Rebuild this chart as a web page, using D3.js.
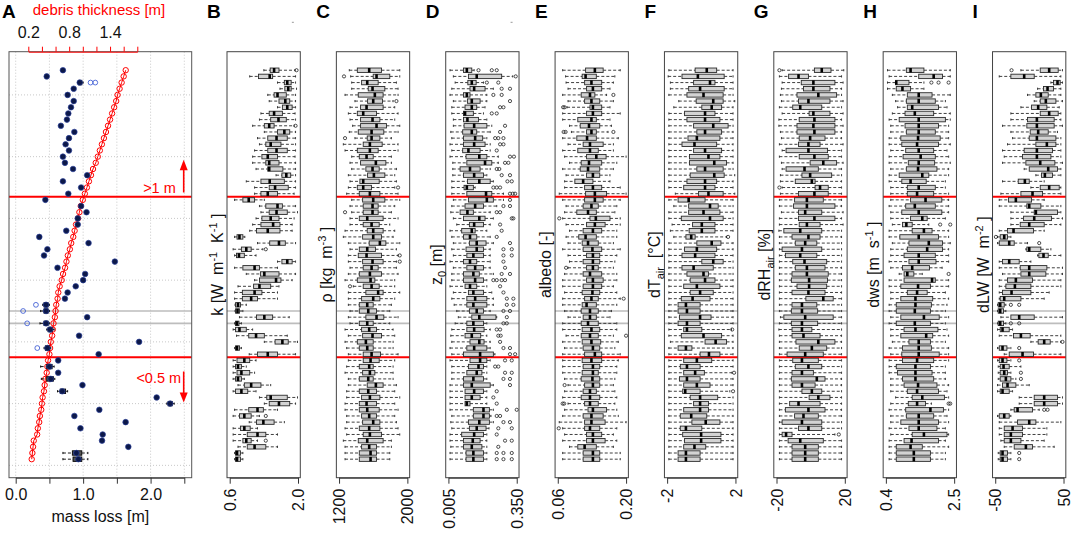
<!DOCTYPE html>
<html>
<head>
<meta charset="utf-8">
<script src="https://cdn.jsdelivr.net/npm/d3@7"></script>
<style>
  body { margin: 0; background: #fff; }
  text { font-family: "Liberation Sans", Arial, sans-serif; }
</style>
</head>
<body>
<div id="chart"></div>
<script>
/* ============================================================
   DATA — stakes listed top (row 64) to bottom (row 1)
============================================================ */

// observed mass loss per stake [m]
const massLoss = [
  0.70, 0.46, 0.95, 0.86, 0.77, 0.86, 0.82, 0.78, 0.76, 0.67,
  0.87, 0.79, 0.74, 0.79, 0.70, 0.73, 0.85, 1.06, 0.70, 0.97,
  0.78, 0.44, 0.97, 1.05, 0.92, 0.92, 0.75, 0.35, 1.08, 0.47,
  0.42, 1.47, 0.62, 1.03, 1.00, 0.89, 0.77, 0.73, 0.45, 0.45,
  1.06, 0.45, 0.51, 0.94, 1.83, 0.47, 1.23, 0.63, 0.50, 0.63,
  0.52, 0.99, 0.69, 2.09, 2.29, 1.24, 0.87, 1.63, 0.96, 1.29,
  1.28, 1.67, 0.90, 0.93
];

// stakes with a visible mass-loss spread: [row, lo, q1, median, q3, hi]
const massBoxes = [
  [62, 0.92, 0.93, 0.95, 0.98, 1.00],
  [26, 0.40, 0.42, 0.45, 0.48, 0.50],
  [25, 0.37, 0.42, 0.45, 0.48, 0.50],
  [23, 0.36, 0.42, 0.45, 0.48, 0.50],
  [22, 0.46, 0.48, 0.51, 0.54, 0.57],
  [19, 0.42, 0.44, 0.47, 0.50, 0.52],
  [16, 0.37, 0.46, 0.50, 0.54, 0.57],
  [14, 0.38, 0.46, 0.52, 0.56, 0.58],
  [12, 0.62, 0.66, 0.69, 0.74, 0.77],
  [10, 2.24, 2.26, 2.29, 2.32, 2.35],
  [2, 0.70, 0.84, 0.90, 0.98, 1.07],
  [1, 0.70, 0.85, 0.93, 0.98, 1.07]
];
const massOutliers = [[62, [1.11, 1.18]], [26, [0.30]], [25, [0.11]], [23, [0.17]], [19, [0.32]]];

// debris thickness per stake [m]
const thickness = [
  1.63, 1.60, 1.57, 1.54, 1.51, 1.49, 1.46, 1.43, 1.40, 1.37,
  1.34, 1.31, 1.28, 1.25, 1.22, 1.19, 1.15, 1.12, 1.09, 1.06,
  1.03, 1.00, 0.97, 0.95, 0.93, 0.90, 0.88, 0.86, 0.83, 0.81,
  0.78, 0.76, 0.74, 0.71, 0.69, 0.66, 0.64, 0.63, 0.61, 0.60,
  0.59, 0.57, 0.56, 0.55, 0.53, 0.52, 0.51, 0.49, 0.48, 0.47,
  0.45, 0.44, 0.43, 0.41, 0.40, 0.39, 0.37, 0.36, 0.34, 0.33,
  0.28, 0.27, 0.26, 0.25
];

const massTicks = [0, 0.5, 1.0, 1.5, 2.0, 2.5];
const massTickLabels = ["0.0", "", "1.0", "", "2.0", ""];
const thickTicks = [0.2, 0.4, 0.6, 0.8, 1.0, 1.2, 1.4, 1.6, 1.8];
const thickTickLabels = ["0.2", "", "", "0.8", "", "", "1.4", "", ""];
const gridRows = [0, 10, 20, 30, 40, 50, 60];
const separatorRows = [43.5, 17.5];
const gapRows = [25, 23];

/* ---------- boxplot stats [lo, q1, median, q3, hi] ---------- */

const kStats = [
  [1.30,1.43,1.51,1.61,1.94],[1.01,1.19,1.42,1.48,1.95],[1.58,1.72,1.78,1.86,1.95],[1.63,1.73,1.80,1.86,1.97],
  [1.38,1.51,1.58,1.76,1.95],[1.41,1.61,1.74,1.83,1.95],[1.58,1.68,1.78,1.88,1.95],[1.24,1.41,1.51,1.68,1.94],
  [1.21,1.44,1.60,1.76,1.95],[1.07,1.31,1.41,1.51,1.92],[1.31,1.58,1.72,1.83,1.95],[1.17,1.38,1.56,1.78,1.95],
  [1.21,1.34,1.44,1.65,1.95],[1.11,1.38,1.56,1.78,1.95],[1.07,1.26,1.38,1.58,1.94],[1.07,1.34,1.41,1.61,1.95],
  [1.14,1.38,1.41,1.69,1.95],[1.55,1.67,1.76,1.85,1.95],[0.94,1.24,1.42,1.72,1.95],[1.11,1.41,1.53,1.80,1.95],
  [1.11,1.24,1.38,1.58,1.92],[0.70,0.87,0.99,1.11,1.31],[1.21,1.34,1.58,1.68,1.95],[1.24,1.41,1.56,1.78,1.99],
  [1.14,1.26,1.44,1.61,1.92],[1.07,1.24,1.49,1.63,1.88],[1.01,1.15,1.38,1.63,1.88],[0.70,0.75,0.80,0.87,0.91],
  [1.17,1.42,1.61,1.74,1.95],[0.67,0.84,0.94,1.04,1.28],[0.70,0.74,0.79,0.90,1.14],[1.58,1.67,1.78,1.88,1.95],
  [0.70,0.87,1.11,1.21,1.58],[0.94,1.23,1.31,1.61,1.95],[1.11,1.21,1.55,1.65,1.88],[0.77,1.09,1.21,1.44,1.61],
  [0.70,0.86,1.11,1.26,1.58],[0.70,0.86,1.04,1.17,1.58],[0.71,0.72,0.77,0.82,0.94],[0.71,0.72,0.76,0.80,0.87],
  [0.80,1.15,1.31,1.48,1.82],[0.70,0.72,0.75,0.79,0.84],[0.67,0.72,0.80,0.94,1.07],[0.74,0.99,1.14,1.31,1.78],
  [1.31,1.53,1.68,1.80,1.99],[0.70,0.72,0.75,0.80,0.84],[1.00,1.17,1.38,1.58,1.95],[0.67,0.75,0.90,1.01,1.14],
  [0.67,0.72,0.77,0.84,0.94],[0.67,0.75,0.84,1.01,1.11],[0.67,0.72,0.77,0.84,0.90],[0.77,0.90,1.04,1.24,1.44],
  [0.67,0.72,0.84,0.97,1.14],[1.21,1.36,1.44,1.78,1.99],[1.31,1.41,1.61,1.83,1.95],[0.70,0.99,1.17,1.29,1.58],
  [0.67,0.80,0.90,1.04,1.21],[1.00,1.15,1.29,1.51,1.72],[0.67,0.82,0.90,1.02,1.17],[0.67,0.96,1.17,1.34,1.58],
  [0.67,0.87,0.94,1.04,1.17],[0.77,0.96,1.11,1.34,1.58],[0.70,0.72,0.75,0.82,0.87],[0.70,0.72,0.75,0.82,0.87]
];
const kOutliers = [[64, [1.97]], [55, [1.95]], [35, [1.34]], [8, [1.34]], [4, [1.34]]];

const rhoStats = [
  [1320,1414,1553,1697,1911],[1336,1600,1639,1794,1911],[1348,1464,1530,1658,1872],[1348,1542,1592,1736,1891],
  [1270,1425,1619,1716,1891],[1386,1534,1600,1709,1833],[1328,1452,1522,1716,1852],[1309,1414,1483,1639,1891],
  [1328,1452,1592,1678,1852],[1359,1452,1639,1755,1911],[1320,1425,1581,1724,1891],[1386,1530,1581,1678,1813],
  [1250,1483,1561,1705,1891],[1270,1414,1561,1658,1891],[1348,1437,1522,1600,1813],[1328,1452,1631,1748,1813],
  [1348,1514,1592,1670,1872],[1309,1534,1608,1736,1852],[1328,1444,1483,1670,1872],[1309,1414,1483,1580,1852],
  [1289,1437,1561,1678,1891],[1348,1476,1600,1736,1911],[1328,1483,1592,1658,1852],[1348,1483,1592,1658,1813],
  [1328,1437,1530,1716,1891],[1328,1483,1581,1670,1794],[1270,1530,1600,1716,1852],[1250,1476,1600,1697,1833],
  [1309,1553,1678,1748,1911],[1328,1437,1530,1627,1872],[1309,1425,1522,1697,1891],[1309,1476,1592,1716,1872],
  [1328,1483,1581,1658,1872],[1309,1437,1561,1697,1891],[1270,1414,1569,1619,1852],[1367,1483,1581,1670,1852],
  [1309,1514,1658,1716,1911],[1309,1464,1600,1678,1852],[1309,1437,1530,1600,1813],[1328,1437,1542,1639,1794],
  [1309,1514,1639,1724,1891],[1328,1437,1530,1600,1794],[1270,1464,1553,1639,1833],[1309,1476,1592,1697,1852],
  [1270,1414,1514,1600,1833],[1289,1437,1530,1600,1833],[1309,1483,1581,1686,1891],[1309,1483,1569,1670,1852],
  [1289,1437,1553,1600,1833],[1270,1476,1561,1619,1833],[1309,1437,1542,1600,1833],[1309,1530,1631,1716,1872],
  [1289,1437,1542,1639,1852],[1289,1464,1561,1678,1911],[1270,1437,1522,1639,1852],[1270,1437,1530,1670,1891],
  [1289,1464,1553,1639,1852],[1289,1476,1600,1678,1872],[1270,1437,1553,1678,1891],[1289,1483,1561,1697,1911],
  [1250,1425,1530,1716,1813],[1270,1464,1553,1639,1813],[1270,1437,1569,1639,1794],[1270,1437,1569,1639,1794]
];
const rhoOutliers = [[63, [1258]], [59, [1872]], [53, [1270]], [45, [1891]], [41, [1270]], [34, [1911]], [33, [1911]], [29, [1328]]];

const z0Stats = [
  [0.013,0.081,0.098,0.123,0.135],[0.030,0.106,0.148,0.274,0.330],[0.039,0.103,0.123,0.145,0.182],[0.022,0.114,0.135,0.190,0.232],
  [0.013,0.081,0.098,0.114,0.199],[0.030,0.101,0.123,0.165,0.199],[0.022,0.089,0.123,0.148,0.190],[0.022,0.081,0.089,0.131,0.182],
  [0.030,0.081,0.101,0.157,0.199],[0.030,0.084,0.135,0.199,0.224],[0.017,0.077,0.123,0.148,0.216],[0.022,0.081,0.140,0.178,0.199],
  [0.013,0.081,0.135,0.190,0.216],[0.022,0.077,0.106,0.165,0.216],[0.013,0.094,0.161,0.199,0.257],[0.027,0.098,0.190,0.224,0.257],
  [0.027,0.064,0.114,0.165,0.216],[0.027,0.081,0.135,0.182,0.199],[0.022,0.101,0.161,0.216,0.232],[0.022,0.084,0.098,0.131,0.140],
  [0.022,0.098,0.195,0.224,0.283],[0.030,0.106,0.199,0.232,0.283],[0.022,0.089,0.140,0.182,0.249],[0.017,0.064,0.101,0.131,0.216],
  [0.030,0.081,0.161,0.190,0.232],[0.047,0.111,0.135,0.182,0.216],[0.013,0.072,0.123,0.140,0.199],[0.022,0.081,0.114,0.148,0.216],
  [0.030,0.111,0.148,0.195,0.232],[0.022,0.094,0.148,0.182,0.216],[0.030,0.098,0.131,0.182,0.216],[0.013,0.081,0.114,0.148,0.216],
  [0.030,0.098,0.140,0.182,0.216],[0.022,0.081,0.131,0.161,0.232],[0.022,0.081,0.140,0.182,0.199],[0.013,0.089,0.114,0.148,0.199],
  [0.030,0.106,0.131,0.182,0.224],[0.022,0.098,0.140,0.199,0.232],[0.034,0.098,0.131,0.199,0.232],[0.047,0.111,0.148,0.182,0.216],
  [0.055,0.123,0.161,0.245,0.249],[0.039,0.098,0.131,0.182,0.199],[0.022,0.098,0.135,0.185,0.216],[0.017,0.089,0.123,0.168,0.199],
  [0.022,0.114,0.161,0.185,0.216],[0.013,0.098,0.135,0.199,0.216],[0.022,0.081,0.165,0.232,0.240],[0.013,0.114,0.165,0.199,0.216],
  [0.022,0.106,0.157,0.182,0.199],[0.022,0.098,0.148,0.174,0.199],[0.022,0.081,0.131,0.182,0.199],[0.013,0.081,0.123,0.216,0.232],
  [0.013,0.089,0.135,0.182,0.199],[0.013,0.089,0.123,0.165,0.199],[0.013,0.089,0.098,0.114,0.199],[0.013,0.131,0.182,0.212,0.232],
  [0.022,0.131,0.182,0.212,0.220],[0.017,0.106,0.161,0.212,0.232],[0.022,0.111,0.148,0.195,0.210],[0.013,0.072,0.135,0.182,0.199],
  [0.013,0.081,0.128,0.165,0.199],[0.017,0.081,0.123,0.174,0.199],[0.013,0.094,0.131,0.182,0.199],[0.013,0.094,0.131,0.182,0.199]
];
const z0Outliers = [
  [64, [0.157, 0.224, 0.249]], [63, [0.345]], [62, [0.199, 0.257]], [61, [0.274, 0.316]], [60, [0.232, 0.274]],
  [59, [0.316]], [58, [0.266, 0.283]], [57, [0.224, 0.249]], [55, [0.291]], [54, [0.266]],
  [53, [0.241, 0.257, 0.283]], [52, [0.266, 0.283]], [51, [0.249]], [50, [0.316, 0.336]], [49, [0.291, 0.308]],
  [48, [0.249, 0.262]], [47, [0.274, 0.316]], [46, [0.303, 0.325]], [45, [0.232, 0.249, 0.266]], [44, [0.316, 0.330, 0.342]],
  [43, [0.316]], [42, [0.283, 0.316]], [41, [0.249, 0.266]], [40, [0.325, 0.333]], [39, [0.266]],
  [38, [0.274]], [37, [0.249]], [36, [0.316]], [35, [0.283, 0.325]], [34, [0.283, 0.325]],
  [33, [0.283]], [32, [0.291]], [31, [0.274, 0.316]], [30, [0.232, 0.249, 0.274, 0.291]], [29, [0.266]],
  [28, [0.283]], [27, [0.300, 0.333]], [26, [0.300, 0.333]], [25, [0.283, 0.316]], [24, [0.300]],
  [23, [0.283, 0.300]], [22, [0.249, 0.266]], [21, [0.257, 0.269]], [20, [0.266]], [19, [0.283, 0.316]],
  [18, [0.316, 0.342]], [17, [0.291, 0.325]], [16, [0.241, 0.257]], [15, [0.291, 0.325]], [14, [0.283, 0.316]],
  [13, [0.316]], [12, [0.249]], [11, [0.232]], [10, [0.249]], [9, [0.300, 0.350]],
  [8, [0.249, 0.266]], [7, [0.283, 0.316]], [6, [0.257, 0.325]], [5, [0.249]], [4, [0.291, 0.325]],
  [3, [0.257]], [2, [0.249, 0.283, 0.325]], [1, [0.249, 0.283, 0.325]]
];

const albedoStats = [
  [0.070,0.117,0.136,0.153,0.188],[0.076,0.110,0.117,0.139,0.177],[0.077,0.115,0.129,0.150,0.174],[0.081,0.119,0.132,0.150,0.167],
  [0.070,0.108,0.126,0.136,0.160],[0.081,0.115,0.129,0.146,0.174],[0.079,0.126,0.132,0.150,0.167],[0.070,0.119,0.132,0.150,0.188],
  [0.070,0.101,0.129,0.139,0.167],[0.084,0.106,0.124,0.146,0.170],[0.088,0.119,0.129,0.139,0.163],[0.070,0.099,0.120,0.139,0.184],
  [0.081,0.112,0.126,0.153,0.174],[0.070,0.101,0.126,0.143,0.174],[0.074,0.119,0.139,0.159,0.200],[0.084,0.108,0.124,0.150,0.181],
  [0.070,0.106,0.122,0.146,0.174],[0.077,0.119,0.132,0.146,0.167],[0.074,0.095,0.112,0.132,0.167],[0.074,0.115,0.132,0.150,0.188],
  [0.063,0.117,0.136,0.160,0.200],[0.070,0.115,0.136,0.153,0.188],[0.077,0.112,0.129,0.143,0.181],[0.074,0.099,0.122,0.139,0.177],
  [0.070,0.126,0.138,0.167,0.188],[0.077,0.119,0.136,0.157,0.188],[0.084,0.112,0.132,0.150,0.181],[0.077,0.103,0.117,0.139,0.181],
  [0.081,0.110,0.122,0.143,0.174],[0.070,0.112,0.131,0.150,0.188],[0.081,0.119,0.132,0.146,0.181],[0.084,0.112,0.132,0.146,0.177],
  [0.081,0.119,0.132,0.143,0.174],[0.074,0.112,0.126,0.150,0.181],[0.070,0.119,0.132,0.153,0.181],[0.070,0.112,0.132,0.150,0.174],
  [0.074,0.110,0.131,0.146,0.181],[0.070,0.115,0.129,0.143,0.188],[0.070,0.110,0.119,0.139,0.181],[0.074,0.108,0.126,0.143,0.170],
  [0.081,0.112,0.126,0.139,0.167],[0.070,0.108,0.122,0.143,0.181],[0.070,0.110,0.129,0.146,0.181],[0.077,0.108,0.126,0.143,0.174],
  [0.070,0.110,0.129,0.148,0.184],[0.074,0.112,0.132,0.146,0.177],[0.070,0.115,0.136,0.150,0.188],[0.070,0.110,0.129,0.150,0.184],
  [0.070,0.112,0.132,0.146,0.181],[0.070,0.110,0.132,0.143,0.181],[0.074,0.108,0.131,0.146,0.177],[0.081,0.115,0.132,0.146,0.174],
  [0.074,0.112,0.126,0.139,0.177],[0.070,0.108,0.126,0.146,0.181],[0.081,0.115,0.126,0.143,0.177],[0.074,0.122,0.132,0.160,0.181],
  [0.070,0.112,0.129,0.153,0.184],[0.063,0.115,0.129,0.157,0.200],[0.070,0.115,0.126,0.146,0.181],[0.074,0.119,0.132,0.150,0.174],
  [0.070,0.119,0.132,0.157,0.181],[0.084,0.101,0.115,0.139,0.174],[0.070,0.112,0.132,0.146,0.188],[0.070,0.112,0.132,0.146,0.188]
];
const albedoOutliers = [
  [60, [0.174]], [58, [0.071, 0.074]], [54, [0.072, 0.076, 0.174]], [40, [0.063]], [32, [0.077]],
  [27, [0.195]], [21, [0.200]], [13, [0.074]], [10, [0.070, 0.073]], [6, [0.062]]
];

const dTStats = [
  [-1.90,-0.36,0.32,0.90,1.86],[-1.94,-1.13,-0.20,1.34,1.86],[-1.81,-0.45,0.51,0.80,1.86],[-1.81,-0.74,-0.07,1.34,1.86],
  [-1.90,-0.84,0.13,1.28,1.86],[-1.32,-0.30,0.70,1.28,1.96],[-1.61,0.03,0.61,1.19,1.86],[-1.90,-0.98,0.22,0.80,1.86],
  [-1.90,-0.84,0.22,1.09,1.86],[-1.90,-0.45,0.70,1.57,1.86],[-1.90,-0.26,0.22,1.19,1.86],[-1.90,-0.78,-0.26,1.09,1.86],
  [-1.90,-1.13,-0.40,0.90,1.86],[-1.90,-0.45,0.22,1.19,1.86],[-1.90,-0.69,0.42,1.09,1.86],[-1.90,-0.69,0.76,1.48,1.86],
  [-1.90,-0.26,0.22,1.28,1.86],[-1.90,-0.65,0.76,1.34,1.96],[-1.90,-0.84,0.22,0.90,1.86],[-1.90,-1.03,0.22,0.80,1.86],
  [-1.52,-0.16,0.42,1.28,1.96],[-1.90,-1.36,-0.74,0.22,1.86],[-1.61,-0.74,0.51,0.99,1.86],[-1.90,-0.74,0.13,1.09,1.86],
  [-1.90,-1.17,0.51,1.28,1.86],[-1.71,-0.51,0.03,0.80,1.86],[-1.81,-0.71,0.03,0.80,1.86],[-1.61,-0.90,-0.59,-0.36,1.48],
  [-1.90,-0.26,0.61,1.15,1.86],[-1.90,-0.98,-0.26,0.90,1.86],[-1.90,-1.13,-0.36,0.80,1.86],[-1.90,0.03,0.70,1.28,1.86],
  [-1.90,-1.13,-0.45,0.70,1.86],[-1.90,-0.84,0.13,0.42,1.86],[-1.90,-0.65,0.22,0.80,1.86],[-1.90,-1.03,-0.26,1.09,1.86],
  [-1.90,-0.65,-0.07,0.70,1.86],[-1.90,-1.17,-0.51,0.51,1.86],[-1.90,-1.36,-0.90,-0.07,1.86],[-1.90,-1.36,-0.84,-0.07,1.86],
  [-1.90,-1.28,-0.07,0.57,1.86],[-1.90,-1.36,-0.84,-0.07,1.86],[-1.90,-1.03,-0.84,0.03,1.77],[-1.90,-1.17,0.13,1.19,1.86],
  [-1.81,0.22,0.84,1.48,1.86],[-1.90,-1.36,-0.90,-0.55,1.86],[-1.90,-0.07,0.45,1.09,1.86],[-1.90,-1.03,-0.26,0.61,1.86],
  [-1.90,-1.23,-0.84,-0.07,1.86],[-1.90,-1.03,-0.36,0.18,1.80],[-1.90,-1.28,-0.84,-0.07,1.86],[-1.90,-1.03,-0.26,0.51,1.86],
  [-1.90,-1.09,-0.94,-0.07,1.67],[-1.90,-0.65,-0.07,0.96,1.86],[-1.90,-0.45,-0.07,0.42,1.86],[-1.90,-1.03,-0.07,0.42,1.86],
  [-1.90,-1.23,-0.59,0.32,1.86],[-1.90,-0.55,0.26,1.09,1.86],[-1.90,-1.23,-0.90,0.03,1.86],[-1.90,-1.09,-0.01,1.15,1.86],
  [-1.90,-0.98,-0.01,1.15,1.86],[-1.90,-1.03,-0.40,0.26,1.86],[-1.90,-1.36,-0.90,-0.07,1.86],[-1.90,-1.36,-0.90,-0.07,1.86]
];
const dTOutliers = [[37, [1.57]], [22, [1.81]], [15, [1.92]], [12, [1.86]]];

const dRHStats = [
  [-16.7,2.2,6.5,11.9,19.4],[-18.3,-12.9,-7.1,-1.3,18.1],[-16.7,-5.5,1.6,14.2,19.0],[-17.1,-4.2,1.6,11.3,18.1],
  [-17.7,-8.0,4.5,15.2,18.1],[-17.1,-7.1,-1.3,11.3,19.0],[-18.3,-10.5,-6.1,6.5,18.1],[-16.7,-0.9,1.6,11.3,19.0],
  [-18.6,-6.7,2.2,14.2,18.1],[-18.6,-8.0,1.6,14.2,19.0],[-17.7,-8.0,2.2,14.2,18.1],[-17.1,-6.7,-0.3,8.4,18.1],
  [-18.3,-7.1,-1.3,5.5,19.0],[-16.7,-14.4,-1.3,9.9,18.1],[-18.3,-6.7,2.2,10.3,18.1],[-17.1,-0.3,7.4,15.2,19.0],
  [-16.7,-14.4,-3.6,4.5,18.1],[-17.7,-5.1,-0.3,12.3,18.1],[-17.7,-9.0,0.7,2.6,18.1],[-16.7,2.6,5.5,10.3,18.1],
  [-17.7,-7.1,2.2,10.3,18.1],[-18.3,-9.4,-2.2,7.4,18.1],[-18.3,-10.0,-2.2,14.2,18.1],[-17.1,-7.1,-3.2,6.5,19.0],
  [-18.3,-7.1,2.2,14.2,18.1],[-18.3,-6.7,-2.2,5.5,19.0],[-18.6,-15.7,-6.1,6.5,18.1],[-18.3,-10.9,-1.3,5.5,18.1],
  [-18.3,-9.0,-3.2,3.6,18.1],[-18.3,-16.7,-5.1,6.5,18.1],[-18.3,-14.8,-6.1,3.6,18.1],[-18.3,-10.5,-3.6,9.4,18.1],
  [-18.3,-9.0,-2.2,8.4,18.1],[-18.3,-10.9,-2.2,10.3,18.1],[-18.3,-11.3,-0.9,9.9,18.1],[-18.3,-8.0,-0.9,9.4,18.1],
  [-18.3,-10.9,-1.3,8.4,18.1],[-18.3,-2.8,7.4,13.2,18.1],[-18.3,-10.9,-5.1,3.6,18.1],[-18.3,-11.3,-5.1,4.1,18.1],
  [-17.7,-15.7,-3.2,13.2,18.1],[-18.3,-11.3,-5.1,4.1,18.1],[-18.6,-10.9,-5.1,0.7,18.1],[-18.3,-10.9,-4.2,5.5,18.1],
  [-18.3,-8.6,4.5,14.2,18.1],[-18.3,-6.7,0.7,9.4,18.1],[-18.3,-13.8,-3.2,7.4,18.1],[-18.3,-10.5,-5.1,4.5,18.1],
  [-18.3,-9.0,-1.3,6.5,18.1],[-18.3,-10.9,-5.1,1.6,18.1],[-18.3,-11.3,3.6,8.4,18.1],[-18.3,-10.9,-5.1,2.6,18.1],
  [-18.3,-5.1,0.7,6.5,18.1],[-18.3,-0.9,4.5,11.3,18.1],[-18.3,-12.3,-7.1,5.5,18.1],[-18.3,-14.8,-1.3,8.4,18.1],
  [-18.3,-9.4,-4.2,4.5,18.1],[-18.3,-16.7,-5.1,6.5,18.1],[-18.3,-7.1,-1.3,6.5,18.1],[-18.3,-16.7,-14.4,-10.9,14.2],
  [-18.3,-13.2,-6.1,7.4,18.1],[-18.3,-10.9,-3.2,4.5,18.1],[-18.3,-10.9,-3.2,4.5,18.1],[-18.3,-10.9,-3.2,4.5,18.1]
];
const dRHOutliers = [[64, [-18.3]], [45, [-18.3]], [5, [16.5]]];

const dwsStats = [
  [0.45,1.03,1.16,1.57,2.38],[0.50,1.41,1.87,2.14,2.38],[0.45,0.70,0.72,1.11,1.57],[0.45,0.72,0.91,1.16,1.57],
  [0.60,1.06,1.41,1.82,2.38],[0.70,1.03,1.41,1.92,2.23],[0.76,1.06,1.21,2.02,2.28],[0.60,0.99,1.29,1.87,2.38],
  [0.50,0.81,1.41,2.23,2.38],[0.55,0.99,1.41,2.02,2.33],[0.55,1.03,1.41,1.92,2.33],[0.50,0.86,1.39,2.07,2.33],
  [0.50,0.89,1.36,2.02,2.38],[0.55,1.01,1.41,1.87,2.28],[0.50,0.93,1.47,1.92,2.33],[0.50,1.09,1.41,1.90,2.38],
  [0.55,1.03,1.39,1.97,2.33],[0.50,0.81,1.52,1.72,2.33],[0.50,0.89,1.16,1.64,2.23],[0.55,1.06,1.41,1.92,2.23],
  [0.55,1.06,1.36,1.87,2.33],[0.55,1.16,1.62,2.12,2.33],[0.50,1.01,1.29,1.92,2.33],[0.55,0.89,1.41,2.12,2.33],
  [0.55,1.16,1.52,1.67,2.23],[0.60,0.91,1.03,1.21,1.72],[0.50,1.21,1.57,1.82,2.33],[0.50,0.83,1.41,2.02,2.33],
  [0.60,1.11,1.72,2.14,2.38],[0.55,1.06,1.67,2.14,2.33],[0.55,0.96,1.41,1.92,2.33],[0.50,1.11,1.41,1.94,2.33],
  [0.55,0.91,1.21,1.74,2.13],[0.81,0.96,1.06,1.26,1.52],[0.50,0.96,1.82,1.92,2.33],[0.50,0.86,1.39,1.77,2.33],
  [0.55,1.06,1.36,1.67,2.23],[0.55,0.86,1.31,1.84,2.33],[0.50,0.72,1.31,1.80,2.28],[0.50,0.72,1.29,1.77,2.23],
  [0.55,0.86,1.57,2.04,2.33],[0.50,0.72,1.29,1.77,2.23],[0.55,0.96,1.31,2.00,2.28],[0.55,0.86,1.64,1.84,2.33],
  [0.60,1.11,1.41,1.77,2.23],[0.50,0.91,1.41,1.80,2.33],[0.55,0.89,1.41,2.04,2.33],[0.50,0.91,1.36,1.87,2.33],
  [0.50,0.72,1.31,1.77,2.23],[0.50,0.76,1.31,1.82,2.23],[0.55,0.91,1.31,1.87,2.23],[0.55,0.96,1.39,1.97,2.33],
  [0.55,1.06,1.36,2.02,2.28],[0.70,1.21,1.52,2.20,2.33],[0.55,1.09,1.36,1.62,1.80],[0.50,1.01,1.77,2.17,2.33],
  [0.55,1.03,1.41,1.87,2.28],[0.55,0.86,1.41,2.02,2.33],[0.50,1.11,1.41,1.97,2.23],[0.55,1.21,1.57,2.28,2.33],
  [0.50,0.96,1.19,2.02,2.23],[0.50,0.72,1.16,1.52,2.33],[0.50,0.72,1.26,1.77,2.23],[0.50,0.72,1.26,1.77,2.23]
];
const dwsOutliers = [[62, [1.80, 2.02, 2.33]], [39, [2.07, 2.38]], [31, [2.33]], [10, [2.33, 2.38]]];

const dLWStats = [
  [-12.4,15.9,29.0,42.2,48.5],[-44.1,-27.1,-7.6,7.1,46.1],[31.5,35.4,41.2,45.1,48.5],[12.0,20.7,26.6,35.4,46.1],
  [-2.7,9.5,16.8,27.6,46.1],[7.1,15.9,24.1,38.8,48.5],[-12.4,3.2,12.9,25.6,43.7],[-27.1,15.9,29.0,42.2,46.1],
  [-27.1,-2.7,11.0,36.3,46.1],[-39.3,-3.7,11.0,36.3,48.5],[-27.1,1.2,12.9,27.6,41.2],[-24.6,-0.2,11.0,38.8,46.1],
  [-32.0,9.5,25.6,38.8,46.1],[-39.3,-7.6,11.0,33.9,46.1],[-36.8,-10.0,11.0,31.5,46.1],[-39.3,-5.1,15.9,37.3,48.5],
  [-7.6,-0.2,27.6,41.2,46.1],[9.5,17.8,22.7,33.9,46.1],[-39.3,-16.3,-6.6,-0.2,21.7],[2.2,15.9,29.0,43.7,46.1],
  [-41.7,-12.4,4.6,19.3,46.1],[-44.1,-30.5,-19.8,3.2,21.7],[-44.1,-3.7,-0.2,16.8,46.1],[-27.1,7.1,9.5,41.2,46.1],
  [-27.1,-8.5,7.1,32.4,48.5],[-27.1,-13.4,-0.2,21.7,46.1],[-44.1,-32.0,-23.2,6.1,21.7],[-46.6,-42.7,-36.8,-32.0,-27.1],
  [-46.6,-44.1,-29.5,-22.2,-2.7],[-5.1,-3.7,-0.2,16.8,31.5],[12.0,13.9,20.7,27.6,46.1],[-44.1,-39.3,-29.5,-14.9,2.2],
  [-44.1,-13.4,-0.2,25.6,48.5],[-39.3,-12.4,-0.2,24.1,48.5],[-44.1,-32.0,-19.8,4.6,46.1],[-44.1,-34.4,-21.2,2.2,46.1],
  [-44.1,-39.3,-26.1,2.2,29.0],[-44.1,-42.7,-36.8,-12.4,21.7],[-46.6,-45.6,-42.7,-36.8,-34.4],[-46.6,-45.6,-42.7,-37.8,-34.4],
  [-41.7,-27.1,-14.9,7.1,48.5],[-46.6,-45.6,-42.7,-37.8,-34.4],[-46.6,-42.7,-39.3,-29.5,-24.6],[-44.1,-23.2,-12.4,1.2,46.1],
  [2.2,12.9,21.7,30.5,46.1],[-46.6,-44.1,-39.3,-32.9,-27.1],[-36.8,-29.5,-10.0,6.1,46.1],[-46.6,-44.1,-39.3,-32.9,-27.1],
  [-45.6,-42.7,-37.8,-29.5,-12.4],[-45.6,-42.7,-36.8,-32.0,-27.1],[-45.6,-42.7,-34.4,-27.1,-19.8],[-46.6,-39.3,-32.0,-19.8,-0.2],
  [-46.6,-42.7,-39.3,-29.5,-24.6],[-14.9,7.1,21.7,41.2,48.5],[-14.9,7.1,21.7,41.2,48.5],[-27.1,-22.2,-17.3,4.6,14.4],
  [-46.6,-44.1,-36.8,-29.5,-27.1],[-44.1,-17.3,-0.2,9.5,46.1],[-44.1,-36.8,-24.6,-10.0,25.6],[-44.1,-36.8,-27.1,-10.0,25.6],
  [-41.7,-36.8,-27.1,-12.4,21.7],[-36.8,-22.2,-5.1,4.6,36.3],[-45.6,-42.7,-39.3,-32.0,-27.1],[-45.6,-42.7,-39.3,-32.0,-27.1]
];
const dLWOutliers = [
  [64, [-26.1]], [37, [-49.0]], [36, [14.4]], [26, [-27.1, -14.9]], [23, [-27.1, -14.9]], [20, [48.5]],
  [19, [-14.9]], [17, [-14.9]], [15, [-12.4]], [14, [-12.4]], [9, [21.7, 26.6]], [2, [-14.9]], [1, [-14.9]]
];

/* ---------- axis ticks and titles ---------- */

const kTicks = [0.6, 2.0],       kTickLabels = ["0.6", "2.0"];
const rhoTicks = [1200, 2000],   rhoTickLabels = ["1200", "2000"];
const z0Ticks = [0.005, 0.350],  z0TickLabels = ["0.005", "0.350"];
const albedoTicks = [0.06, 0.20], albedoTickLabels = ["0.06", "0.20"];
const dTTicks = [-2, 2],         dTTickLabels = ["-2", "2"];
const dRHTicks = [-20, 20],      dRHTickLabels = ["-20", "20"];
const dwsTicks = [0.4, 2.5],     dwsTickLabels = ["0.4", "2.5"];
const dLWTicks = [-50, 50],      dLWTickLabels = ["-50", "50"];

// title pieces: [text, "sup" | "sub" | undefined]
const yTitles = [
  [["k [W  m"], ["-1", "sup"], ["  K"], ["-1", "sup"], [" ]"]],
  [["\u03c1 [kg  m"], ["-3", "sup"], [" ]"]],
  [["z"], ["0", "sub"], [" [m]"]],
  [["albedo [-]"]],
  [["dT"], ["air", "sub"], ["  [\u00b0C]"]],
  [["dRH"], ["air", "sub"], [" [%]"]],
  [["dws [m  s"], ["-1", "sup"], [" ]"]],
  [["dLW [W  m"], ["-2", "sup"], [" ]"]]
];

/* ============================================================
   LAYOUT
============================================================ */

const W = 1072, H = 533;
const FONT = "'Liberation Sans', Arial, sans-serif";
const RED = "#ff0000";
const PLOT_TOP = 51.7, PLOT_BOTTOM = 477.7;
const PANEL_W = 73.3;
const BH = 2.2;    // half box height
const CAP = 1.1;   // half whisker cap height

const ROW_IDS = d3.range(64, 0, -1);

const svg = d3.select("#chart")
  .append("svg")
  .attr("width", W)
  .attr("height", H)
  .style("display", "block");

const y = d3.scaleLinear().domain([-2, 67]).range([PLOT_BOTTOM, PLOT_TOP]);

function stakeLines(g, x0, x1) {
  g.selectAll("line.gap")
    .data(gapRows)
    .join("line")
    .attr("class", "gap")
    .attr("x1", x0).attr("x2", x1)
    .attr("y1", d => y(d)).attr("y2", d => y(d))
    .attr("stroke", "#bdbdbd")
    .attr("stroke-width", 1.6);

  g.selectAll("line.sep")
    .data(separatorRows)
    .join("line")
    .attr("class", "sep")
    .attr("x1", x0).attr("x2", x1)
    .attr("y1", d => y(d)).attr("y2", d => y(d))
    .attr("stroke", RED)
    .attr("stroke-width", 2);
}

function drawBoxes(g, stats, rowIds, x, style) {
  const rows = g.selectAll("g.stake")
    .data(stats)
    .join("g")
    .attr("class", "stake")
    .attr("transform", (d, i) => `translate(0,${y(rowIds[i])})`);

  [[0, 1], [3, 4]].forEach(([a, b]) => {
    rows.append("line")
      .attr("x1", d => x(d[a])).attr("x2", d => x(d[b]))
      .attr("stroke", style.line)
      .attr("stroke-width", 0.9)
      .attr("stroke-dasharray", "3,2");
  });

  [0, 4].forEach(j => {
    rows.append("line")
      .attr("x1", d => x(d[j])).attr("x2", d => x(d[j]))
      .attr("y1", -CAP).attr("y2", CAP)
      .attr("stroke", style.line)
      .attr("stroke-width", 0.9);
  });

  rows.append("rect")
    .attr("x", d => x(d[1]))
    .attr("y", -BH)
    .attr("width", d => Math.max(0.8, x(d[3]) - x(d[1])))
    .attr("height", 2 * BH)
    .attr("fill", style.fill)
    .attr("stroke", style.line)
    .attr("stroke-width", 0.9);

  rows.append("line")
    .attr("x1", d => x(d[2])).attr("x2", d => x(d[2]))
    .attr("y1", -BH).attr("y2", BH)
    .attr("stroke", "#000")
    .attr("stroke-width", 2.6);
}

function drawOutliers(g, outliers, x, color, r) {
  const pts = outliers.flatMap(([row, vals]) => vals.map(v => ({ row, v })));
  g.selectAll("circle.out")
    .data(pts)
    .join("circle")
    .attr("class", "out")
    .attr("cx", d => x(d.v))
    .attr("cy", d => y(d.row))
    .attr("r", r)
    .attr("fill", "none")
    .attr("stroke", color)
    .attr("stroke-width", 0.8);
}

function styleAxis(ax) {
  ax.attr("font-family", FONT).attr("font-size", 16).attr("color", "#333");
  ax.selectAll(".tick text").attr("fill", "#111");
}

/* ============================================================
   PANEL A — MASS LOSS AND DEBRIS THICKNESS
============================================================ */

const aLeft = 9, aRight = 191.7;
const xMass = d3.scaleLinear().domain([0, 2.5]).range([15.7, 184.3]);
const xThick = d3.scaleLinear().domain([0.2, 1.8]).range([28.3, 137.3]);

const gA = svg.append("g");

// dotted grid
gA.selectAll("line.vgrid")
  .data(massTicks)
  .join("line")
  .attr("x1", d => xMass(d)).attr("x2", d => xMass(d))
  .attr("y1", PLOT_TOP).attr("y2", PLOT_BOTTOM)
  .attr("stroke", "#c8c8c8")
  .attr("stroke-dasharray", "1,2");

gA.selectAll("line.hgrid")
  .data(gridRows)
  .join("line")
  .attr("x1", aLeft).attr("x2", aRight)
  .attr("y1", d => y(d)).attr("y2", d => y(d))
  .attr("stroke", "#c8c8c8")
  .attr("stroke-dasharray", "1,2");

stakeLines(gA, aLeft, aRight);

// debris thickness profile
const thickPts = thickness.map((t, i) => [xThick(t), y(ROW_IDS[i])]);
gA.append("path")
  .attr("d", d3.line()(thickPts))
  .attr("fill", "none")
  .attr("stroke", RED)
  .attr("stroke-width", 1);

gA.selectAll("circle.thick")
  .data(thickPts)
  .join("circle")
  .attr("class", "thick")
  .attr("cx", d => d[0])
  .attr("cy", d => d[1])
  .attr("r", 2.7)
  .attr("fill", "none")
  .attr("stroke", RED)
  .attr("stroke-width", 1);

// mass loss spread
const gMassBox = gA.append("g");
drawBoxes(gMassBox, massBoxes.map(d => d.slice(1)), massBoxes.map(d => d[0]), xMass,
  { fill: "#555", line: "#000" });
drawOutliers(gA.append("g"), massOutliers, xMass, "#2f4fd0", 2.4);

// observed mass loss
gA.selectAll("circle.obs")
  .data(massLoss)
  .join("circle")
  .attr("class", "obs")
  .attr("cx", d => xMass(d))
  .attr("cy", (d, i) => y(ROW_IDS[i]))
  .attr("r", 2.8)
  .attr("fill", "#0c1848")
  .attr("stroke", "#2a3f9a")
  .attr("stroke-width", 0.7);

gA.append("rect")
  .attr("x", aLeft).attr("y", PLOT_TOP)
  .attr("width", aRight - aLeft).attr("height", PLOT_BOTTOM - PLOT_TOP)
  .attr("fill", "none")
  .attr("stroke", "#555")
  .attr("stroke-width", 1);

// bottom axis
const axA = gA.append("g")
  .attr("transform", `translate(0,${PLOT_BOTTOM})`)
  .call(d3.axisBottom(xMass).tickValues(massTicks)
    .tickFormat((d, i) => massTickLabels[i]).tickSize(6).tickSizeOuter(0).tickPadding(5));
styleAxis(axA);

gA.append("text")
  .attr("x", (aLeft + aRight) / 2)
  .attr("y", 522)
  .attr("text-anchor", "middle")
  .attr("font-size", 16)
  .attr("fill", "#111")
  .text("mass loss [m]");

// top axis (red) for debris thickness
const axT = gA.append("g")
  .attr("transform", `translate(0,${PLOT_TOP})`)
  .call(d3.axisTop(xThick).tickValues(thickTicks)
    .tickFormat((d, i) => thickTickLabels[i]).tickSize(5).tickSizeOuter(0).tickPadding(9));
axT.attr("font-family", FONT).attr("font-size", 16);
axT.select(".domain").attr("stroke", RED);
axT.selectAll(".tick line").attr("stroke", RED);
axT.selectAll(".tick text").attr("fill", "#111");

gA.append("text")
  .attr("x", 99)
  .attr("y", 15)
  .attr("text-anchor", "middle")
  .attr("font-size", 15)
  .attr("fill", RED)
  .text("debris thickness [m]");

// threshold annotations
const arrowX = xMass(2.5) - 0.6;
gA.append("line")
  .attr("x1", arrowX).attr("x2", arrowX)
  .attr("y1", y(44.2)).attr("y2", y(48))
  .attr("stroke", RED).attr("stroke-width", 1.6);
gA.append("path")
  .attr("d", `M${arrowX},${y(49.5)}L${arrowX - 4},${y(47.8)}L${arrowX + 4},${y(47.8)}Z`)
  .attr("fill", RED);
gA.append("text")
  .attr("x", xMass(1.89)).attr("y", y(44.15))
  .attr("font-size", 14.5).attr("fill", RED)
  .text(">1 m");

gA.append("line")
  .attr("x1", arrowX).attr("x2", arrowX)
  .attr("y1", y(15.2)).attr("y2", y(11.6))
  .attr("stroke", RED).attr("stroke-width", 1.6);
gA.append("path")
  .attr("d", `M${arrowX},${y(10.2)}L${arrowX - 4},${y(11.8)}L${arrowX + 4},${y(11.8)}Z`)
  .attr("fill", RED);
gA.append("text")
  .attr("x", xMass(1.79)).attr("y", y(13.4))
  .attr("font-size", 14.5).attr("fill", RED)
  .text("<0.5 m");

svg.append("text")
  .attr("x", 2).attr("y", 18)
  .attr("font-size", 19).attr("font-weight", "bold")
  .text("A");

/* ============================================================
   PANELS B–I — PARAMETER BOXPLOTS
============================================================ */

const PANELS = [
  { letter: "B", stats: kStats,      out: kOutliers,      ticks: kTicks,      labels: kTickLabels },
  { letter: "C", stats: rhoStats,    out: rhoOutliers,    ticks: rhoTicks,    labels: rhoTickLabels },
  { letter: "D", stats: z0Stats,     out: z0Outliers,     ticks: z0Ticks,     labels: z0TickLabels },
  { letter: "E", stats: albedoStats, out: albedoOutliers, ticks: albedoTicks, labels: albedoTickLabels },
  { letter: "F", stats: dTStats,     out: dTOutliers,     ticks: dTTicks,     labels: dTTickLabels },
  { letter: "G", stats: dRHStats,    out: dRHOutliers,    ticks: dRHTicks,    labels: dRHTickLabels },
  { letter: "H", stats: dwsStats,    out: dwsOutliers,    ticks: dwsTicks,    labels: dwsTickLabels },
  { letter: "I", stats: dLWStats,    out: dLWOutliers,    ticks: dLWTicks,    labels: dLWTickLabels }
];

PANELS.forEach((p, k) => {
  const left = 227 + k * 109.36;
  const right = left + PANEL_W;
  const x = d3.scaleLinear().domain(p.ticks).range([left + 2.7, left + 71]);
  const g = svg.append("g");

  stakeLines(g, left, right);
  drawBoxes(g.append("g"), p.stats, ROW_IDS, x, { fill: "#d3d3d3", line: "#2a2a2a" });
  drawOutliers(g.append("g"), p.out, x, "#222", 1.6);

  g.append("rect")
    .attr("x", left).attr("y", PLOT_TOP)
    .attr("width", PANEL_W).attr("height", PLOT_BOTTOM - PLOT_TOP)
    .attr("fill", "none")
    .attr("stroke", "#444")
    .attr("stroke-width", 1);

  const ax = g.append("g")
    .attr("transform", `translate(0,${PLOT_BOTTOM})`)
    .call(d3.axisBottom(x).tickValues(p.ticks)
      .tickFormat((d, i) => p.labels[i]).tickSize(6).tickSizeOuter(0));
  styleAxis(ax);
  ax.selectAll(".tick text")
    .attr("transform", "rotate(-90)")
    .attr("x", -11)
    .attr("y", 0)
    .attr("dy", "0.35em")
    .attr("text-anchor", "end");

  // rotated title with super/subscripts
  const title = g.append("text")
    .attr("transform", `translate(${left - 4},${(PLOT_TOP + PLOT_BOTTOM) / 2}) rotate(-90)`)
    .attr("text-anchor", "middle")
    .attr("font-size", 16)
    .attr("fill", "#111")
    .style("white-space", "pre");
  let shift = 0;
  yTitles[k].forEach(([txt, kind]) => {
    const target = kind === "sup" ? -6 : kind === "sub" ? 4 : 0;
    title.append("tspan")
      .attr("dy", target - shift)
      .attr("font-size", kind ? 11 : 16)
      .text(txt);
    shift = target;
  });

  svg.append("text")
    .attr("x", left - 20).attr("y", 18)
    .attr("font-size", 19).attr("font-weight", "bold")
    .text(p.letter);
});

// faint header marks
[1, 3].forEach(k => {
  const mx = 227 + k * 109.36 - 44.5;
  svg.append("line")
    .attr("x1", mx).attr("x2", mx + 2)
    .attr("y1", 22.3).attr("y2", 22.3)
    .attr("stroke", "#999");
});
</script>
</body>
</html>
